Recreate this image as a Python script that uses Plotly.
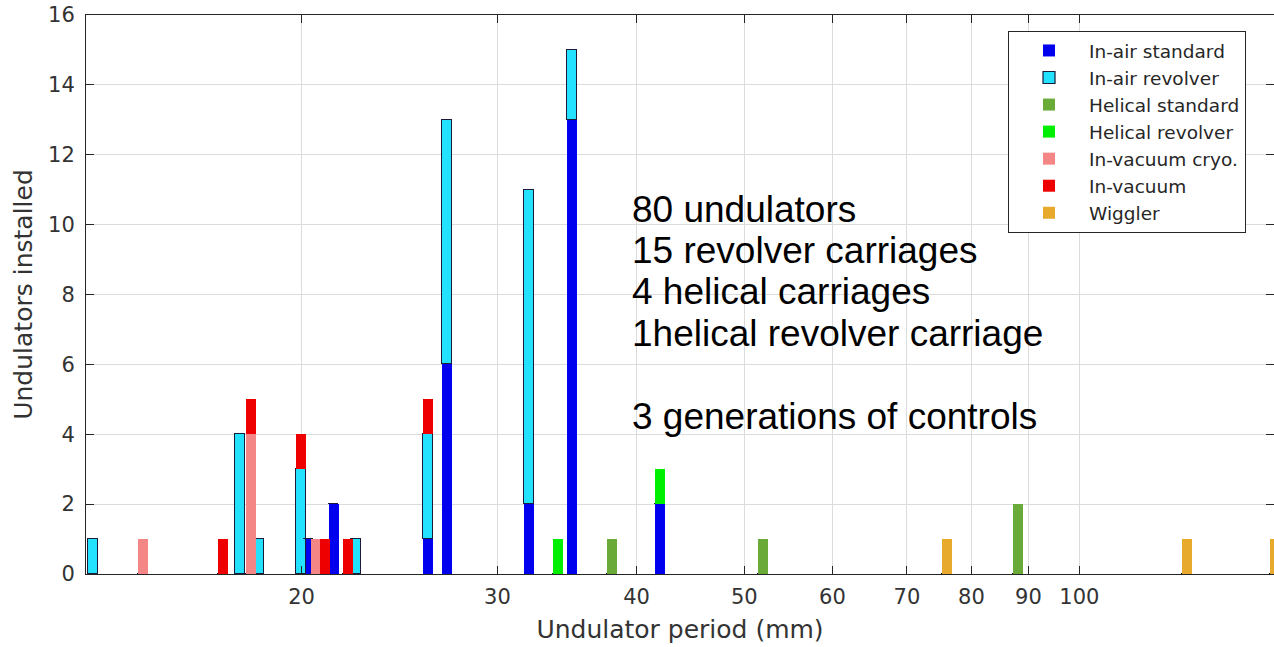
import plotly.graph_objects as go

# ---- data ----
periods = [13, 14.4, 17, 17.6, 18, 18.3, 20, 20.3, 20.6, 21, 21.4, 22, 22.4,
           26, 27, 32, 34, 35, 38, 42, 52, 76, 88, 125, 150]

series_names = ["In-air standard", "In-air revolver", "Helical standard",
                "Helical revolver", "In-vacuum cryo.", "In-vacuum", "Wiggler"]

in_air_standard  = [0, 0, 0, 0, 0, 0, 0, 1, 0, 0, 2, 0, 0, 1, 6, 2, 0, 13, 0, 2, 0, 0, 0, 0, 0]
in_air_revolver  = [1, 0, 0, 4, 0, 1, 3, 0, 0, 0, 0, 0, 1, 3, 7, 9, 0, 2, 0, 0, 0, 0, 0, 0, 0]
helical_standard = [0, 0, 0, 0, 0, 0, 0, 0, 0, 0, 0, 0, 0, 0, 0, 0, 0, 0, 1, 0, 1, 0, 2, 0, 0]
helical_revolver = [0, 0, 0, 0, 0, 0, 0, 0, 0, 0, 0, 0, 0, 0, 0, 0, 1, 0, 0, 1, 0, 0, 0, 0, 0]
in_vacuum_cryo   = [0, 1, 0, 0, 4, 0, 0, 0, 1, 0, 0, 0, 0, 0, 0, 0, 0, 0, 0, 0, 0, 0, 0, 0, 0]
in_vacuum        = [0, 0, 1, 0, 1, 0, 1, 0, 0, 1, 0, 1, 0, 1, 0, 0, 0, 0, 0, 0, 0, 0, 0, 0, 0]
wiggler          = [0, 0, 0, 0, 0, 0, 0, 0, 0, 0, 0, 0, 0, 0, 0, 0, 0, 0, 0, 0, 0, 1, 0, 1, 1]

x_ticks = [20, 30, 40, 50, 60, 70, 80, 90, 100]
y_ticks = [0, 2, 4, 6, 8, 10, 12, 14, 16]

notes = ["80 undulators", "15 revolver carriages", "4 helical carriages",
         "1helical revolver carriage", "", "3 generations of controls"]

# ---- styles ----
colors = ["#0000ee", "#22e2ff", "#6aaa38", "#00ee00", "#f48686", "#ee0000", "#e8aa2c"]
edge_colors = [None, "#1a1a3a", None, None, None, None, None]

values = [in_air_standard, in_air_revolver, helical_standard, helical_revolver,
          in_vacuum_cryo, in_vacuum, wiggler]

# constant bar width on the log axis (half-width in decades)
half_dec = 0.0045
widths = [p * (10 ** half_dec - 10 ** (-half_dec)) for p in periods]

fig = go.Figure()
for name, vals, col, ec in zip(series_names, values, colors, edge_colors):
    fig.add_trace(go.Bar(
        x=periods, y=vals, name=name, width=widths,
        marker=dict(color=col,
                    line=dict(color=ec if ec else col, width=1.2 if ec else 0)),
    ))

axis_col = "#262626"
grid_col = "#dcdcdc"
tick_font = dict(family="DejaVu Sans", size=21, color="#333333")
title_font = dict(family="DejaVu Sans", size=25, color="#333333")

fig.update_layout(
    width=1274, height=647,
    margin=dict(l=86, r=0, t=15, b=73),
    paper_bgcolor="white", plot_bgcolor="white",
    barmode="stack", bargap=0,
    showlegend=True,
    legend=dict(x=0.7761, y=0.9715, xanchor="left", yanchor="top",
                bgcolor="white", bordercolor=axis_col, borderwidth=1,
                font=dict(family="DejaVu Sans", size=18.5, color="#262626"),
                itemwidth=70, traceorder="normal"),
    xaxis=dict(type="log", range=[1.10737, 2.17495],
               tickvals=x_ticks, ticktext=[str(t) for t in x_ticks],
               ticks="inside", ticklen=8, tickcolor=axis_col, tickwidth=1,
               showline=True, linecolor=axis_col, linewidth=1, mirror="ticks",
               showgrid=True, gridcolor=grid_col, gridwidth=1,
               zeroline=False, tickfont=tick_font, ticklabelstandoff=4,
               title=dict(text="Undulator period (mm)", font=title_font,
                          standoff=12)),
    yaxis=dict(range=[0, 16], tickvals=y_ticks,
               ticks="inside", ticklen=8, tickcolor=axis_col, tickwidth=1,
               showline=True, linecolor=axis_col, linewidth=1, mirror="ticks",
               showgrid=True, gridcolor=grid_col, gridwidth=1,
               zeroline=False, tickfont=tick_font, ticklabelstandoff=6,
               title=dict(text="Undulators installed", font=title_font,
                          standoff=8)),
)

# text block on the right side of the plot
line_step = 41.4 / 559.0
y0 = (574 - 209) / 559.0
for i, txt in enumerate(notes):
    if not txt:
        continue
    fig.add_annotation(
        text=txt, xref="paper", yref="paper",
        x=(630 - 86) / 1188.0, y=y0 - i * line_step,
        xanchor="left", yanchor="middle", showarrow=False,
        font=dict(family="Liberation Sans", size=37, color="black"),
    )

fig.write_html("out.html")
